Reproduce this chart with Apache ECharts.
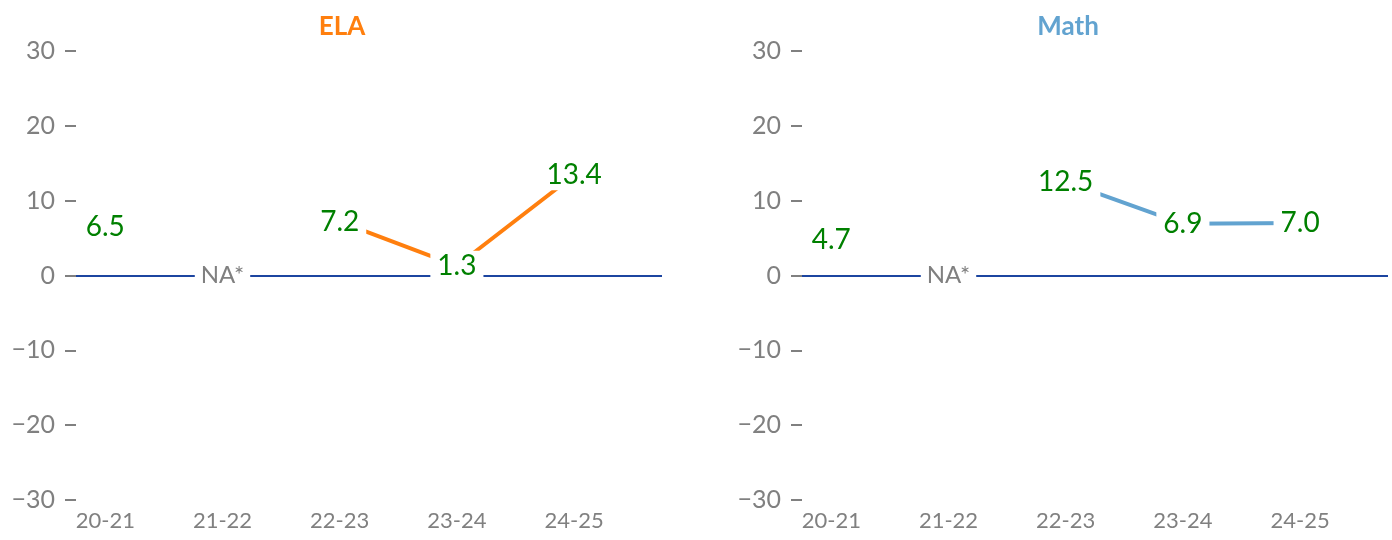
<!DOCTYPE html>
<html>
<head>
<meta charset="utf-8">
<script src="https://cdn.jsdelivr.net/npm/echarts@6/dist/echarts.min.js"></script>
<style>
html,body{margin:0;padding:0;background:#fff;}
#chart{width:1392px;height:540px;}
</style>
</head>
<body>
<div id="chart"></div>
<script>
// ---- data ----
const categories = ['20-21', '21-22', '22-23', '23-24', '24-25'];
const elaValues = [6.5, null, 7.2, 1.3, 13.4];
const mathValues = [4.7, null, 12.5, 6.9, 7.0];
const naLabel = 'NA*';
const naIndex = [1];
const panelTitles = ['ELA', 'Math'];
const yTicks = [-30, -20, -10, 0, 10, 20, 30];

const FONT = 'Lato, "Open Sans", sans-serif';
const GRAY = '#808080';
const GREEN = '#008000';
const colors = ['#ff7f0e', '#62a3d0'];
const grids = [
  {left: 76, width: 586, top: 51, height: 449},
  {left: 802, width: 586, top: 51, height: 449}
];
const titleX = [337, 1063];

const chart = echarts.init(document.getElementById('chart'), null, {renderer: 'canvas'});

function pairs(vals) { return vals.map((v, i) => [i, v]); }

const xAxes = [], yAxes = [], series = [], titles = [];
[elaValues, mathValues].forEach((vals, k) => {
  titles.push({
    text: panelTitles[k], left: titleX[k], top: 9, textAlign: 'center',
    textStyle: {color: colors[k], fontFamily: FONT, fontWeight: 'bold', fontSize: 26}
  });
  xAxes.push({
    gridIndex: k, type: 'value', min: -0.25, max: 4.75, position: 'bottom',
    splitLine: {show: false}, axisLine: {show: false, onZero: false}, axisTick: {show: false},
    axisLabel: {
      customValues: categories.map((c, i) => i),
      formatter: v => categories[Math.round(v)],
      color: GRAY, fontFamily: FONT, fontSize: 22, margin: 10
    }
  });
  yAxes.push({
    gridIndex: k, type: 'value', min: yTicks[0], max: yTicks[yTicks.length - 1], interval: 10,
    position: 'left',
    splitLine: {show: false}, axisLine: {show: false, onZero: false},
    axisTick: {show: true, length: 11, lineStyle: {color: GRAY, width: 2}},
    axisLabel: {
      formatter: v => String(v).replace('-', '\u2212'),
      color: GRAY, fontFamily: FONT, fontSize: 25, margin: 21
    }
  });
  series.push({
    type: 'line', xAxisIndex: k, yAxisIndex: k, z: 2,
    data: pairs(vals), connectNulls: false, showSymbol: false, symbol: 'none',
    lineStyle: {color: colors[k], width: 4}, silent: true,
    markLine: {
      silent: true, symbol: 'none', label: {show: false},
      lineStyle: {color: '#1c45a0', width: 2, type: 'solid'},
      data: [{yAxis: 0}]
    }
  });
  series.push({
    type: 'scatter', xAxisIndex: k, yAxisIndex: k, z: 5, symbolSize: 0, silent: true,
    itemStyle: {opacity: 1},
    data: pairs(vals).filter(p => p[1] !== null),
    label: {
      show: true, position: 'inside', formatter: p => p.value[1].toFixed(1),
      color: GREEN, fontFamily: FONT, fontSize: 28,
      backgroundColor: '#fff', padding: [1, 7]
    }
  });
  series.push({
    type: 'scatter', xAxisIndex: k, yAxisIndex: k, z: 5, symbolSize: 0, silent: true,
    itemStyle: {opacity: 1},
    data: naIndex.map(i => [i, 0]),
    label: {
      show: true, position: 'inside', formatter: naLabel,
      color: GRAY, fontFamily: FONT, fontSize: 24,
      backgroundColor: '#fff', padding: [0, 6]
    }
  });
});

chart.setOption({
  animation: false,
  backgroundColor: '#fff',
  title: titles,
  grid: grids,
  xAxis: xAxes,
  yAxis: yAxes,
  series: series
});
</script>
</body>
</html>
